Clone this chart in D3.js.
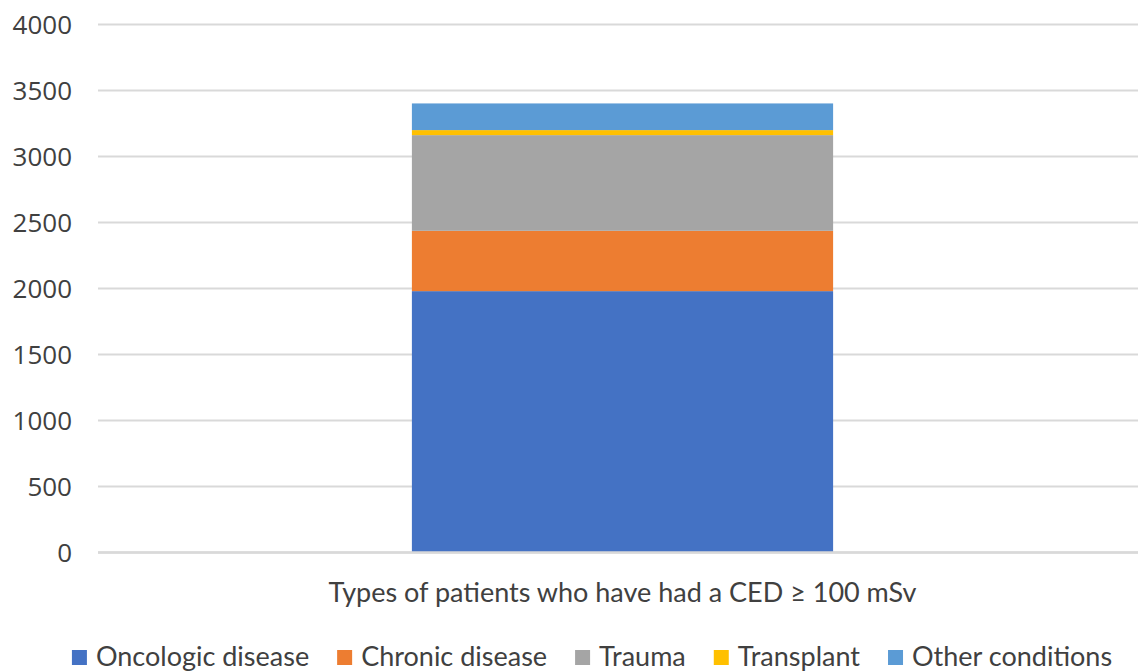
<!DOCTYPE html>
<html>
<head>
<meta charset="utf-8">
<script src="https://cdn.jsdelivr.net/npm/d3@7"></script>
<style>
  html, body { margin: 0; padding: 0; background: #fff; }
  svg { display: block; }
</style>
</head>
<body>
<svg id="chart" width="1138" height="672"></svg>
<script>
// Patient groups stacked in a single column
const categories = ["Types of patients who have had a CED \u2265 100 mSv"];
const seriesNames = ["Oncologic disease", "Chronic disease", "Trauma", "Transplant", "Other conditions"];
const seriesValues = [1980, 457, 725, 38, 202];
const seriesColors = ["#4472C4", "#ED7D31", "#A5A5A5", "#FFC000", "#5B9BD5"];
const yTicks = [0, 500, 1000, 1500, 2000, 2500, 3000, 3500, 4000];

const svg = d3.select("#chart");
const plot = { left: 98, right: 1147, top: 24.5, bottom: 552.5 };
const textColor = "#404040";
const labelFont = "Lato, 'Open Sans', sans-serif";

const y = d3.scaleLinear().domain([0, 4000]).range([plot.bottom, plot.top]);
const x = d3.scaleBand().domain(categories).range([plot.left, plot.right])
  .paddingInner(0.427).paddingOuter(0.427);

// Gridlines
svg.append("g").selectAll("line").data(yTicks).join("line")
  .attr("x1", plot.left).attr("x2", plot.right)
  .attr("y1", d => y(d)).attr("y2", d => y(d))
  .attr("stroke", "#d9d9d9").attr("stroke-width", 2);

// Y axis labels
const yAxis = d3.axisLeft(y).tickValues(yTicks).tickFormat(d3.format("d")).tickSize(0).tickPadding(0);
const yg = svg.append("g").attr("transform", "translate(72,0)").call(yAxis);
yg.select(".domain").remove();
yg.selectAll("text")
  .attr("font-family", "'Open Sans', sans-serif")
  .attr("font-size", 26)
  .attr("fill", textColor)
  .attr("dy", "0.36em");

// Stacked segments
const row = { cat: categories[0] };
seriesNames.forEach((s, i) => row[s] = seriesValues[i]);
const stack = d3.stack().keys(seriesNames)([row]);

svg.append("g").selectAll("rect").data(stack).join("rect")
  .attr("x", x(categories[0]))
  .attr("width", x.bandwidth())
  .attr("y", d => y(d[0][1]))
  .attr("height", d => y(d[0][0]) - y(d[0][1]))
  .attr("fill", (d, i) => seriesColors[i]);

// Baseline
svg.append("line")
  .attr("x1", plot.left).attr("x2", plot.right)
  .attr("y1", y(0)).attr("y2", y(0))
  .attr("stroke", "#d9d9d9").attr("stroke-width", 2.5);

// Category label
svg.append("text")
  .attr("x", x(categories[0]) + x.bandwidth() / 2)
  .attr("y", 602)
  .attr("text-anchor", "middle")
  .attr("font-family", labelFont)
  .attr("font-size", 27)
  .attr("fill", textColor)
  .text(categories[0]);

// Legend
const legend = svg.append("g");
const items = legend.selectAll("g").data(seriesNames).join("g");
items.append("rect")
  .attr("width", 15).attr("height", 15)
  .attr("y", 650)
  .attr("fill", (d, i) => seriesColors[i]);
items.append("text")
  .attr("x", 24).attr("y", 666)
  .attr("font-family", labelFont)
  .attr("font-size", 27)
  .attr("fill", textColor)
  .text(d => d);

const widths = [];
items.each(function () {
  widths.push(d3.select(this).select("text").node().getComputedTextLength());
});
const gap = 28;
const total = d3.sum(widths) + widths.length * 24 + (widths.length - 1) * gap;
let cursor = 592 - total / 2;
items.each(function (d, i) {
  d3.select(this).attr("transform", `translate(${cursor},0)`);
  cursor += 24 + widths[i] + gap;
});
</script>
</body>
</html>
